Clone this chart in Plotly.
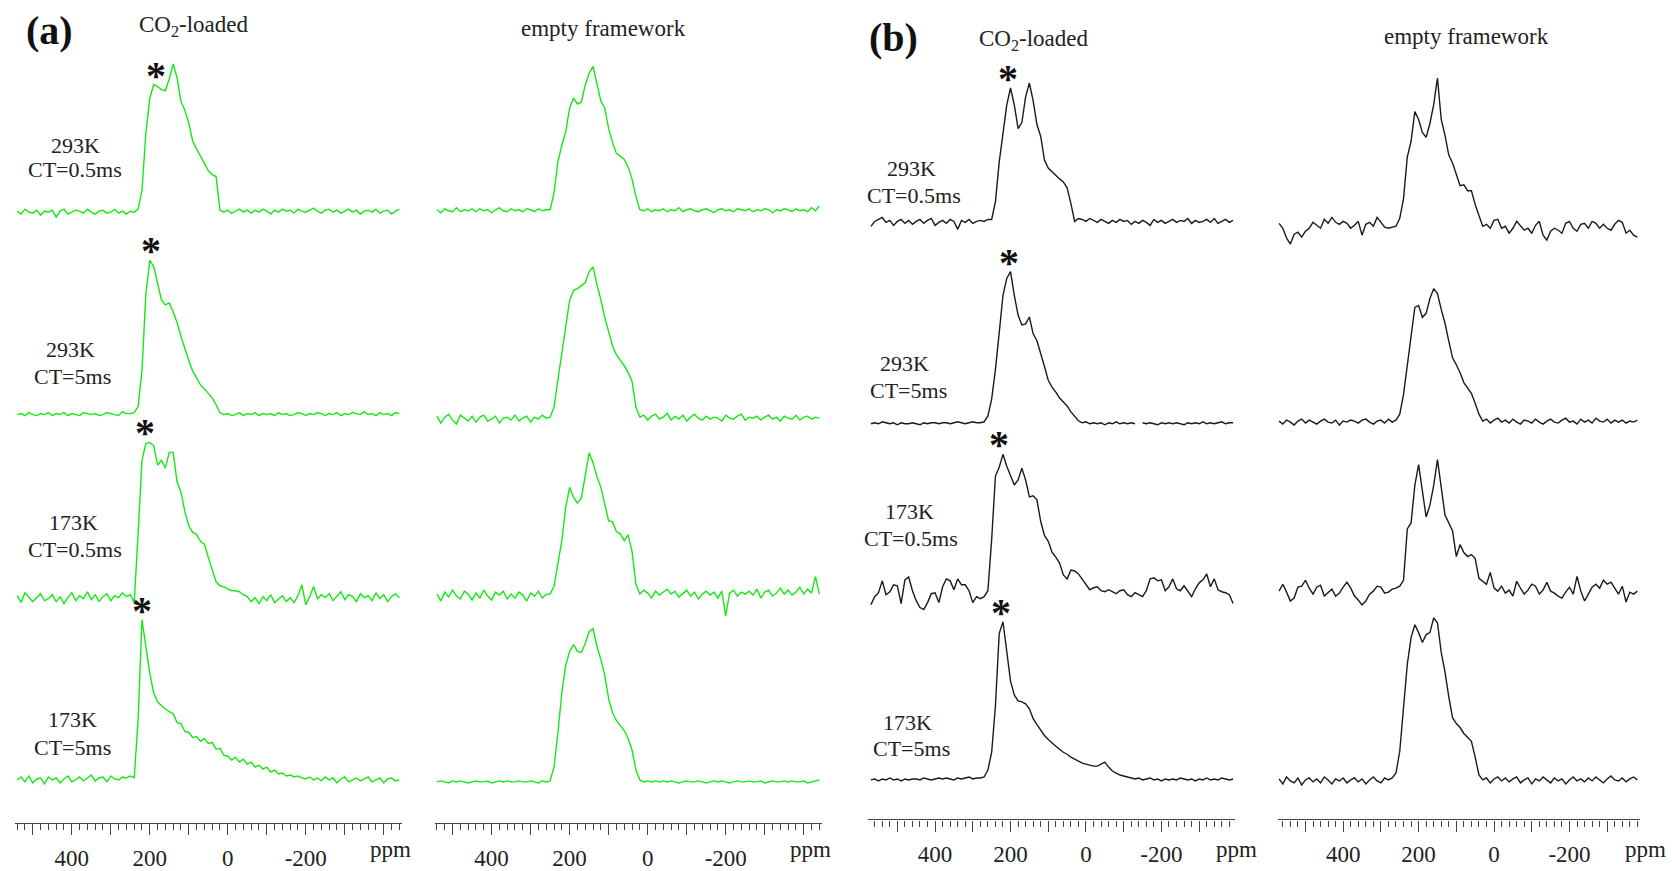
import plotly.graph_objects as go

W, H = 1672, 871

# ---------------- data (chemical shift grids, ppm) ----------------
PPM_A = list(range(540, -441, -10))        # panel (a) sampling
PPM_B_CO2 = list(range(570, -391, -10))    # panel (b) CO2-loaded sampling
PPM_B_EMPTY = list(range(570, -381, -10))  # panel (b) empty framework sampling

# ---- panel (a), CO2-loaded ----
A_CO2_293K_05 = [
    1, -2, 3, 0, -1, 2, -3, 1, 0, 2,
    -5, 1, 3, -2, 0, 2, 1, -1, 3, 0,
    -2, 1, 2, -1, 0, 3, -1, 1, -2, 1,
    0, 3, 22, 80, 115, 129, 127, 124, 123, 135,
    150, 136, 112, 103, 90, 72, 64, 57, 50, 42,
    38, 36, 2, 0, 2, -1, 1, 3, 0, 2,
    -1, 2, 0, 3, 1, -2, 2, 0, 3, 1,
    2, -1, 3, 1, 0, 2, 4, 1, -1, 2,
    3, 0, 2, -1, 1, 3, 0, 2, -2, 1,
    2, 0, 3, -1, 1, 2, -2, 1, 3]
A_CO2_293K_5 = [
    0, 1, -1, 2, 0, -1, 1, 0, 2, -1,
    1, 0, 2, -1, 1, 0, -1, 2, 1, 0,
    1, -1, 0, 2, 1, 0, -1, 3, 1, 1,
    2, 8, 45, 122, 156, 150, 134, 116, 111, 113,
    104, 93, 79, 66, 55, 44, 37, 30, 26, 21,
    17, 10, 2, 0, 1, -1, 0, 2, -1, 1,
    0, 2, -1, 1, 0, 1, -1, 2, 0, 1,
    -1, 0, 2, 1, -1, 1, 0, 2, 1, -1,
    1, 0, 2, -1, 1, 0, 2, 1, 0, 3,
    0, 1, -1, 2, 0, 1, -1, 2, 1]
A_CO2_173K_05 = [
    3, -4, 6, 2, -3, 1, 5, -2, 0, 4,
    -3, 2, -5, 1, 6, -2, 3, 0, 7, -1,
    4, -3, 2, 5, -2, 3, 1, 6, 2, 4,
    -4, 65, 140, 157, 158, 155, 135, 140, 132, 148,
    148, 118, 108, 88, 74, 67, 65, 58, 55, 42,
    30, 17, 13, 12, 10, 8, 8, 7, 4, 2,
    -3, 1, -5, 2, -2, 4, -4, 0, 3, -3,
    1, -4, 3, 14, -6, 2, 12, 0, 4, 1,
    5, -2, 3, 7, -1, 4, 2, -3, 5, 1,
    3, -2, 6, 0, 4, -3, 2, 5, 1]
A_CO2_173K_5 = [
    0, 3, -2, 4, -3, 1, 2, -4, 3, 0,
    2, -3, 1, 4, -2, 0, 3, -1, 2, 5,
    -1, 2, 3, -2, 4, 1, 0, 3, 2, 4,
    2, 60, 162, 135, 108, 88, 79, 75, 72, 69,
    67, 58, 57, 49, 48, 43, 44, 39, 42, 37,
    38, 31, 32, 25, 24, 20, 23, 18, 21, 16,
    18, 13, 15, 11, 13, 8, 10, 6, 7, 4,
    5, 3, 4, 2, 1, 3, 0, 2, -1, 3,
    0, 2, -3, 1, 3, -2, 0, 2, -1, 1,
    3, -2, 0, 2, -3, 1, 2, -1, 0]

# ---- panel (a), empty framework ----
A_EMP_293K_05 = [
    1, -2, 2, 0, -1, 3, -1, 1, 0, 2,
    -1, 2, 0, 1, -2, 1, 3, 0, -1, 2,
    0, 1, -1, 2, 1, -1, 2, 0, 1, 1,
    18, 50, 66, 80, 104, 114, 108, 110, 127, 139,
    146, 128, 111, 104, 83, 69, 58, 55, 52, 44,
    32, 14, 1, 0, 2, -1, 1, 0, 2, -1,
    1, 0, 3, -1, 1, 2, 0, -1, 1, 2,
    0, -2, 1, 2, 0, 1, -1, 2, 1, 0,
    2, -1, 1, 0, 2, 1, -2, 1, 0, 2,
    1, -1, 2, 0, 1, -1, 3, 0, 5]
A_EMP_293K_5 = [
    3, -4, 2, 5, -1, -5, 4, 1, -2, 3,
    -3, 2, 4, -2, 0, 3, -4, 1, 2, -1,
    4, -2, 1, 3, -3, 2, 0, 4, 1, 2,
    12, 40, 66, 90, 120, 130, 132, 135, 138, 149,
    154, 136, 121, 103, 88, 74, 65, 60, 54, 47,
    38, 12, 2, 4, -1, 3, 5, 0, 2, 6,
    -1, 3, 0, 4, -2, 2, 5, 1, -1, 3,
    0, 2, 1, -2, 4, 1, 0, 3, 5, -1,
    2, 1, 3, -1, 2, 4, 0, 2, -2, 3,
    1, 0, 4, -1, 2, 3, 0, 2, 1]
A_EMP_173K_05 = [
    2, -5, 4, -1, 6, 0, -3, 5, 2, -4,
    3, -2, 6, 0, -4, 4, 1, 5, -3, 2,
    -2, 4, 1, -5, 3, 0, 5, -2, 2, 2,
    10, 32, 56, 90, 110, 100, 94, 99, 120, 145,
    135, 121, 110, 92, 76, 75, 65, 63, 56, 62,
    45, 12, 2, 6, 3, -2, 5, 1, 4, 7,
    2, 5, -1, 3, 6, 0, 4, -3, 2, 5,
    1, 4, -2, 5, -20, 3, 6, 0, 4, 2,
    5, 1, 7, -2, 4, 6, 0, 3, 8, 2,
    6, 1, 4, 9, 2, 7, 3, 20, 2]
A_EMP_173K_5 = [
    0, 1, 0, -1, 1, 0, 1, 0, -1, 0,
    1, 0, 0, 1, -1, 0, 1, 0, 1, 0,
    0, 1, 0, 0, 1, 0, -1, 1, 0, 1,
    15, 50, 90, 118, 132, 139, 132, 131, 140, 152,
    155, 137, 124, 108, 84, 70, 62, 57, 52, 44,
    32, 12, 2, 0, 1, 0, 1, 0, 1, 0,
    1, 0, -1, 0, 1, 0, 0, 1, 0, -1,
    0, 1, 0, 1, 0, -1, 0, 1, 0, 0,
    1, 0, 0, 1, -1, 0, 1, 0, 0, 1,
    0, 1, 0, 0, 1, -1, 0, 1, 2]

# ---- panel (b), CO2-loaded ----
B_CO2_293K_05 = [
    -3, 2, 4, 6, 1, 3, -2, 2, 4, 0,
    3, -1, 2, 4, 0, 3, 5, -2, 1, 3,
    0, 4, 2, -6, 3, 1, 4, 0, 2, 3,
    2, 4, 4, 22, 62, 90, 120, 137, 120, 96,
    102, 128, 142, 124, 100, 88, 64, 56, 52, 48,
    45, 42, 36, 20, 2, 5, 4, 2, 5, 3,
    1, 4, 2, 0, 3, 1, 4, 2, 3, -1,
    2, 0, 3, 1, -2, 4, 1, 3, 0, 2,
    4, 1, 3, 2, 5, 0, 3, 1, 2, 4,
    1, 5, 0, 2, 4, 1, 3]
B_CO2_293K_5 = [
    0, 1, 0, 2, 1, 0, 1, -1, 1, 0,
    0, 1, 0, -1, 1, 0, 1, 1, 0, 1,
    1, 0, 1, 2, 1, 0, 1, 2, 1, 1,
    2, 8, 25, 55, 92, 130, 147, 154, 130, 110,
    100, 101, 108, 91, 84, 72, 58, 44, 37, 32,
    26, 22, 18, 12, 7, 3, 1, 2, 0, 1,
    0, 1, -1, 1, 0, 2, 0, 1, 0, 1,
    0, None, 1, 0, 1, 0, -1, 1, 0, 1,
    0, 1, 0, -1, 1, 0, 1, 0, 2, 0,
    1, 0, 1, 2, 0, 1, 1]
B_CO2_173K_05 = [
    -6, 2, 6, 18, 4, 7, 14, 13, -5, 19,
    22, 8, -2, -9, -11, -4, 5, 6, -4, 12,
    20, 18, 9, 20, 14, 14, 8, -4, 2, 0,
    2, 8, 60, 124, 133, 146, 134, 125, 115, 120,
    132, 120, 103, 104, 100, 78, 64, 58, 47, 42,
    36, 24, 20, 29, 28, 25, 20, 15, 9, 11,
    12, 8, 7, 9, 7, 5, 8, 9, 4, 2,
    6, 4, 2, 8, 20, 21, 18, 19, 8, 12,
    20, 10, 8, 13, 8, 2, 10, 16, 19, 25,
    12, 20, 9, 7, 6, 4, -5]
B_CO2_173K_5 = [
    0, 1, -1, 1, 0, 2, 0, 1, -1, 1,
    0, 1, 1, 0, 2, 1, 0, 1, 2, 1,
    2, 1, 0, 2, 1, 2, 3, 1, 2, 2,
    3, 10, 28, 75, 148, 160, 130, 100, 86, 80,
    79, 77, 72, 62, 56, 50, 45, 41, 37, 34,
    31, 28, 26, 23, 21, 19, 17, 16, 15, 14,
    14, 16, 18, 13, 9, 7, 5, 4, 3, 2,
    1, 2, 0, 1, 2, 0, 1, -1, 1, 0,
    1, 0, 2, 1, 0, 1, -1, 1, 0, 2,
    0, 1, 0, 2, 1, 0, 1]

# ---- panel (b), empty framework ----
B_EMP_293K_05 = [
    5, 0, -10, -16, -6, -4, -9, -3, 0, 6,
    3, 0, 9, 5, 11, 6, 4, 7, 5, 0,
    3, 7, -7, 4, 6, 2, 11, 6, 1, 0,
    1, 2, 10, 30, 72, 88, 118, 110, 97, 92,
    106, 125, 152, 110, 94, 74, 66, 54, 43, 44,
    38, 38, 24, 13, 2, 4, 0, 8, 9, 0,
    2, -5, 0, 7, 2, -2, 0, -5, 3, 7,
    -7, -12, -3, 0, -2, -5, 5, 7, 0, -3,
    4, 5, 0, 7, 5, 0, 4, 0, -2, 4,
    8, 6, -5, -2, -7, -9]
B_EMP_293K_5 = [
    1, -2, 2, 0, -3, 1, 3, -1, 2, 0,
    -2, 1, 3, 0, -1, 2, -3, 1, 0, 2,
    1, -1, 2, 3, 0, -2, 1, 2, -1, 3,
    0, 2, 8, 28, 58, 90, 116, 118, 106, 110,
    125, 135, 130, 114, 100, 82, 65, 58, 50, 40,
    34, 29, 19, 8, 1, 3, -1, 2, 4, 0,
    2, -1, 3, 0, -2, 2, 1, -1, 3, 0,
    -2, 1, 3, 0, -1, 2, 4, 0, 1, -2,
    3, 0, 2, -1, 4, 1, 0, 3, -1, 2,
    0, 2, -1, 1, 0, 2]
B_EMP_173K_05 = [
    5, 12, 4, -5, -2, 9, 10, 16, 8, 2,
    9, 11, 0, 4, 7, 0, 3, 9, 14, 8,
    0, -4, -9, -5, 2, 5, 10, 9, 3, 4,
    7, 8, 10, 16, 68, 74, 112, 133, 105, 80,
    92, 112, 138, 108, 82, 74, 66, 40, 52, 44,
    40, 42, 38, 18, 15, 12, 24, 8, 5, 10,
    3, 6, 0, 15, 8, 2, 6, 12, 10, 2,
    6, 14, 5, 3, 0, -2, 4, 9, 2, 20,
    5, -5, 2, 9, 12, 8, 16, 12, 14, 8,
    2, 10, -6, 4, 2, 5]
B_EMP_173K_5 = [
    2, -3, 4, 0, -2, 3, -4, 1, 3, -1,
    2, -2, 4, 1, -3, 2, 0, 3, -2, 1,
    3, -1, 2, -3, 1, 4, 0, -2, 3, 1,
    3, 8, 30, 75, 118, 145, 158, 150, 140, 148,
    150, 165, 160, 130, 110, 85, 64, 58, 54, 48,
    44, 40, 24, 6, 1, 3, -2, 2, 4, 0,
    3, -1, 2, 4, -2, 1, 3, -3, 2, 0,
    4, 1, -2, 3, 0, 2, -3, 1, 4, 0,
    2, -1, 3, 0, 4, 1, -2, 2, 5, 1,
    0, 3, -1, 2, 4, 1]

ROW_TEMPS = ["293K", "293K", "173K", "173K"]
ROW_CTS = ["CT=0.5ms", "CT=5ms", "CT=0.5ms", "CT=5ms"]
HEADERS = ["CO<sub>2</sub>-loaded", "empty framework", "CO<sub>2</sub>-loaded", "empty framework"]
PANEL_TAGS = ["(a)", "(b)"]
TICK_VALS = [500, 400, 300, 200, 100, 0, -100, -200, -300, -400]
TICK_TEXT = ["", "400", "", "200", "", "0", "", "-200", "", ""]
UNIT = "ppm"
# asterisk-marked peaks (ppm) in the CO2-loaded spectra, per row
STAR_PPM_A = [185, 196, 212, 220]
STAR_PPM_B = [208, 205, 231, 225]

# ---------------- layout / style ----------------
GREEN = "#14ea14"
BLACK = "#1a1a1a"
FONT = "Liberation Serif"

columns = [
    dict(ppm=PPM_A, series=[A_CO2_293K_05, A_CO2_293K_5, A_CO2_173K_05, A_CO2_173K_5], color=GREEN),
    dict(ppm=PPM_A, series=[A_EMP_293K_05, A_EMP_293K_5, A_EMP_173K_05, A_EMP_173K_5], color=GREEN),
    dict(ppm=PPM_B_CO2, series=[B_CO2_293K_05, B_CO2_293K_5, B_CO2_173K_05, B_CO2_173K_5], color=BLACK),
    dict(ppm=PPM_B_EMPTY, series=[B_EMP_293K_05, B_EMP_293K_5, B_EMP_173K_05, B_EMP_173K_5], color=BLACK),
]
for col in columns:
    for s in col["series"]:
        assert len(s) == len(col["ppm"]), (len(s), len(col["ppm"]))

X_DOM_PX = [(15, 401.7), (435, 821.7), (868.3, 1235), (1278.3, 1640)]
X_RANGE = [(545.6, -446), (545, -446), (577, -395), (572, -387)]
AXIS_Y_PX = [832.7, 832.7, 829, 829]
UNIT_PX = [(390, 859), (810, 859), (1236, 859), (1645, 859)]
BASE_PX = [[214.6, 419.4, 605.6, 789], [213.2, 424, 603, 791],
           [226, 428.7, 605.6, 789], [230.9, 427, 603, 790]]
Y_LO, Y_HI = -45, 195


def px(x):
    return x / W


def py(y):
    return 1 - y / H


def label(x, y, text, size, bold=False, color="#222"):
    return dict(x=px(x), y=py(y), xref="paper", yref="paper",
                text=f"<b>{text}</b>" if bold else text, showarrow=False,
                xanchor="center", yanchor="middle",
                font=dict(family=FONT, size=size, color=color))


fig = go.Figure()
layout = dict(
    width=W, height=H, margin=dict(l=0, r=0, t=0, b=0, pad=0),
    paper_bgcolor="white", plot_bgcolor="rgba(0,0,0,0)",
    showlegend=False, hovermode=False,
    font=dict(family=FONT, size=23, color="#222"),
)
annotations = []

for c, col in enumerate(columns):
    xname = "x" if c == 0 else f"x{c + 1}"
    xkey = "xaxis" if c == 0 else f"xaxis{c + 1}"
    nt = len(TICK_VALS) if c < 2 else len(TICK_VALS) - 1
    layout[xkey] = dict(
        domain=[px(X_DOM_PX[c][0]), px(X_DOM_PX[c][1])],
        range=list(X_RANGE[c]), anchor="free", position=py(AXIS_Y_PX[c]),
        showline=True, linecolor="#444", linewidth=1.3,
        ticks="outside", ticklen=11, tickwidth=1.3, tickcolor="#444",
        tickmode="array", tickvals=TICK_VALS[:nt], ticktext=TICK_TEXT[:nt],
        tickfont=dict(family=FONT, size=23, color="#222"), ticklabelstandoff=3,
        minor=dict(ticks="outside", ticklen=6, tickwidth=1.1, tickcolor="#444",
                   tickmode="linear", tick0=0, dtick=20, showgrid=False),
        showgrid=False, zeroline=False, fixedrange=True,
    )
    for r, ys in enumerate(col["series"]):
        yid = c * 4 + r + 1
        yname = "y" if yid == 1 else f"y{yid}"
        ykey = "yaxis" if yid == 1 else f"yaxis{yid}"
        b = BASE_PX[c][r]
        layout[ykey] = dict(
            domain=[py(b - Y_LO), py(b - Y_HI)], range=[Y_LO, Y_HI],
            anchor=xname, visible=False, fixedrange=True,
        )
        fig.add_trace(go.Scatter(
            x=col["ppm"], y=ys, mode="lines", xaxis=xname, yaxis=yname,
            line=dict(color=col["color"], width=1.4), connectgaps=False,
            hoverinfo="skip",
        ))
        # asterisk over the marked peak of CO2-loaded spectra
        if c in (0, 2):
            sp = (STAR_PPM_A if c == 0 else STAR_PPM_B)[r]
            idx = col["ppm"].index(int(round(sp / 10.0) * 10))
            peak = max(v for v in ys[max(0, idx - 2):idx + 3] if v is not None)
            annotations.append(dict(
                x=sp, y=peak, xref=xname, yref=yname, text="<b>*</b>", showarrow=False,
                xanchor="center", yanchor="bottom", yshift=-15,
                font=dict(family=FONT, size=40, color="#111"),
            ))
    # unit label at the right end of each axis
    annotations.append(label(UNIT_PX[c][0], UNIT_PX[c][1], UNIT, 23))

# headers
HEADER_PX = [(193, 26), (603, 29), (1033, 40), (1466, 37)]
for (hx, hy), t in zip(HEADER_PX, HEADERS):
    annotations.append(label(hx, hy, t, 23))

# panel tags
TAG_PX = [(49, 31), (893, 38)]
for (tx, ty), t in zip(TAG_PX, PANEL_TAGS):
    annotations.append(label(tx, ty, t, 40, bold=True, color="#111"))

# row labels
LABEL_PX = [
    [((75, 147), (75, 171)), ((70, 354), (72, 381)), ((73, 529), (75, 556)), ((72, 728), (72, 756))],
    [((912, 170), (914, 198)), ((905, 368), (908, 395)), ((909, 517), (911, 545)), ((907, 731), (912, 757))],
]
for p in range(2):
    for r in range(4):
        (ax1, ay1), (ax2, ay2) = LABEL_PX[p][r]
        annotations.append(label(ax1, ay1, ROW_TEMPS[r], 22))
        annotations.append(label(ax2, ay2, ROW_CTS[r], 22))

layout["annotations"] = annotations
fig.update_layout(**layout)
fig.write_html("out.html", config={"displayModeBar": False},
               post_script="document.body.style.margin='0';document.body.style.padding='0';")
